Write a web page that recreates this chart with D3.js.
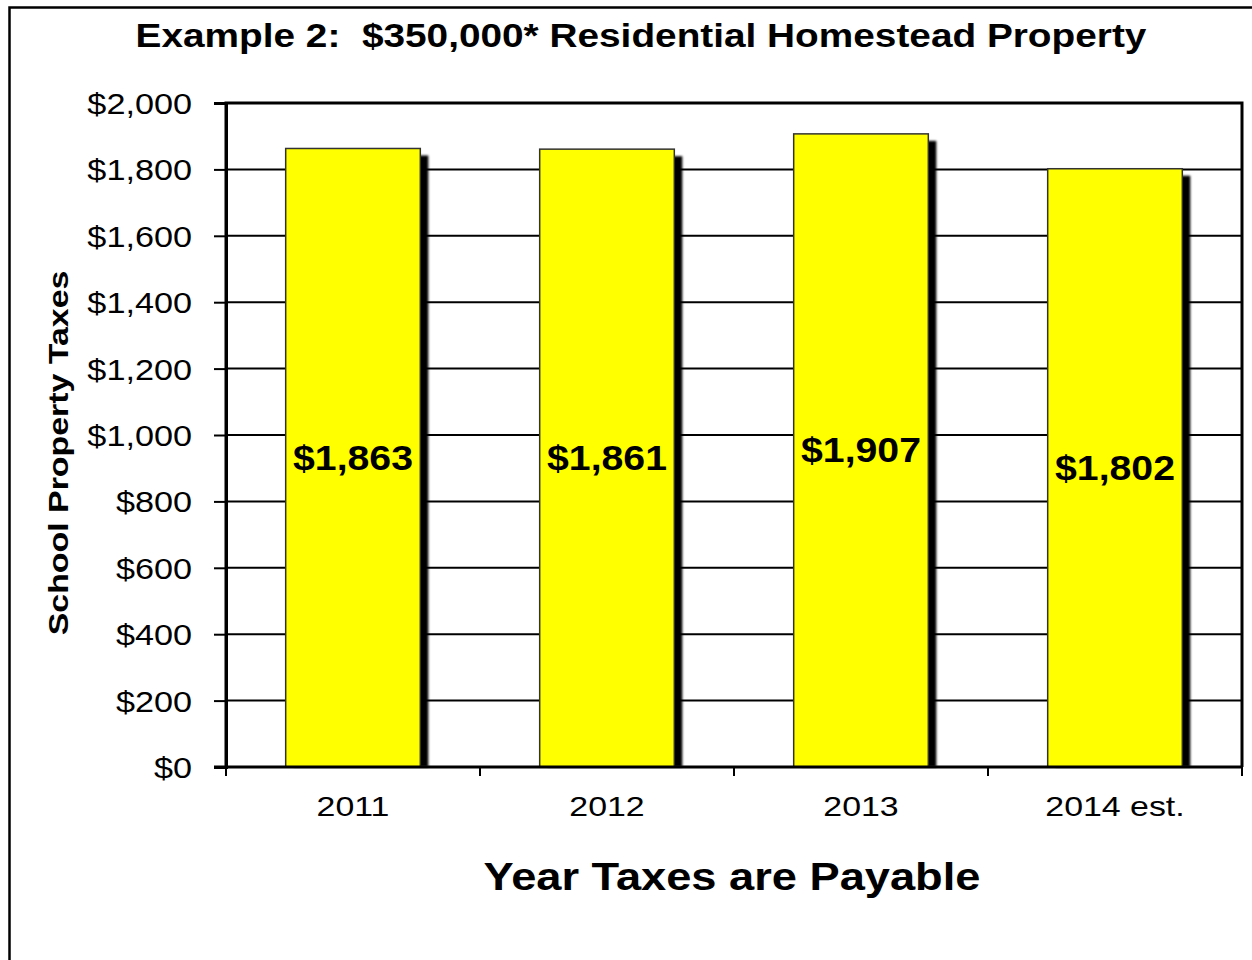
<!DOCTYPE html>
<html>
<head>
<meta charset="utf-8">
<script src="https://cdn.jsdelivr.net/npm/d3@7"></script>
<style>
  body { margin: 0; background: #fff; }
  text { font-family: "Liberation Sans", Arial, sans-serif; fill: #000; }
</style>
</head>
<body>
<svg id="chart" width="1252" height="960"></svg>
<script>
// Data.
const years  = [ '2011', '2012', '2013', '2014 est.' ];
const taxes  = [ 1863, 1861, 1907, 1802 ];
const yTicks = [ 0, 200, 400, 600, 800, 1000, 1200, 1400, 1600, 1800, 2000 ];

const margin = { top: 103, left: 226, right: 10, bottom: 193 };
const width  = 1252, height = 960;
const innerW = width  - margin.left - margin.right;
const innerH = height - margin.top  - margin.bottom;

const svg = d3.select( '#chart' );

// The original text is drawn a bit wider than the font; stretch it to match.
function widen ( sel, k ) {
  sel.each( function () {
    const len = this.getComputedTextLength();
    d3.select( this ).attr( 'textLength', len * k ).attr( 'lengthAdjust', 'spacingAndGlyphs' );
  } );
}

// Outer chart frame (only top and left show inside the picture).
svg.append( 'rect' )
  .attr( 'x', 9.5 ).attr( 'y', 7.5 )
  .attr( 'width', 1300 ).attr( 'height', 1100 )
  .attr( 'fill', 'none' ).attr( 'stroke', '#000' ).attr( 'stroke-width', 2.5 );

// Bar shadow filter.
const defs = svg.append( 'defs' );
defs.append( 'filter' ).attr( 'id', 'blur' )
  .append( 'feGaussianBlur' ).attr( 'stdDeviation', 1 );

const g = svg.append( 'g' )
  .attr( 'transform', `translate(${margin.left},${margin.top})` );

const x = d3.scaleBand().domain( years ).range( [ 0, innerW ] ).paddingInner( 0.47 ).paddingOuter( 0.235 );
const y = d3.scaleLinear().domain( [ 0, 2000 ] ).range( [ innerH, 0 ] );

// Gridlines.
g.append( 'g' ).selectAll( 'line' )
  .data( yTicks.filter( d => d > 0 ) )
  .enter().append( 'line' )
    .attr( 'x1', 0 ).attr( 'x2', innerW )
    .attr( 'y1', d => y( d ) ).attr( 'y2', d => y( d ) )
    .attr( 'stroke', '#000' ).attr( 'stroke-width', 2 );

// Shadows.
g.append( 'g' ).selectAll( 'rect' )
  .data( taxes ).enter().append( 'rect' )
    .attr( 'x', ( d, i ) => x( years[i] ) + 8 )
    .attr( 'y', d => y( d ) + 7 )
    .attr( 'width', x.bandwidth() )
    .attr( 'height', d => innerH - y( d ) - 7 )
    .attr( 'fill', '#000' )
    .attr( 'filter', 'url(#blur)' );

// Bars.
g.append( 'g' ).selectAll( 'rect' )
  .data( taxes ).enter().append( 'rect' )
    .attr( 'x', ( d, i ) => x( years[i] ) )
    .attr( 'y', d => y( d ) )
    .attr( 'width', x.bandwidth() )
    .attr( 'height', d => innerH - y( d ) )
    .attr( 'fill', '#ffff00' )
    .attr( 'stroke', '#333' ).attr( 'stroke-width', 1.5 );

// Value labels in the middle of each bar.
g.append( 'g' ).selectAll( 'text' )
  .data( taxes ).enter().append( 'text' )
    .attr( 'x', ( d, i ) => x( years[i] ) + x.bandwidth() / 2 )
    .attr( 'y', d => ( y( d ) + innerH ) / 2 + 12 )
    .attr( 'text-anchor', 'middle' )
    .style( 'font-size', '35px' ).style( 'font-weight', 'bold' )
    .text( d => '$' + d3.format( ',' )( d ) )
    .call( widen, 1.12 );

// Plot frame (top, left, right).
g.append( 'path' )
  .attr( 'd', `M0,${innerH}V0H${innerW}V${innerH}` )
  .attr( 'fill', 'none' ).attr( 'stroke', '#000' ).attr( 'stroke-width', 3 );

// Y axis.
const yAxis = g.append( 'g' )
  .call( d3.axisLeft( y ).tickValues( yTicks ).tickSize( 12 ).tickPadding( 22 )
    .tickFormat( d => '$' + d3.format( ',' )( d ) ) );
yAxis.select( '.domain' ).attr( 'stroke-width', 3 );
yAxis.selectAll( '.tick line' ).attr( 'stroke-width', 2 );
yAxis.selectAll( 'text' ).style( 'font-size', '29px' ).attr( 'dy', '0.36em' )
  .call( widen, 1.18 );

// X axis with ticks on the category boundaries.
const edges = d3.range( years.length + 1 ).map( i => i * innerW / years.length );
const xAxis = g.append( 'g' ).attr( 'transform', `translate(0,${innerH})` );
xAxis.append( 'line' )
  .attr( 'x1', -12 ).attr( 'x2', innerW )
  .attr( 'stroke', '#000' ).attr( 'stroke-width', 3 );
xAxis.selectAll( '.edge' )
  .data( edges ).enter().append( 'line' )
    .attr( 'class', 'edge' )
    .attr( 'x1', d => d ).attr( 'x2', d => d )
    .attr( 'y1', 0 ).attr( 'y2', 9 )
    .attr( 'stroke', '#000' ).attr( 'stroke-width', 2 );
xAxis.selectAll( 'text' )
  .data( years ).enter().append( 'text' )
    .attr( 'x', d => x( d ) + x.bandwidth() / 2 )
    .attr( 'y', 49 )
    .attr( 'text-anchor', 'middle' )
    .style( 'font-size', '28px' )
    .text( d => d )
    .call( widen, 1.21 );

// Titles.
svg.append( 'text' )
  .attr( 'x', 641 ).attr( 'y', 47 )
  .attr( 'text-anchor', 'middle' )
  .style( 'font-size', '33px' ).style( 'font-weight', 'bold' )
  .style( 'white-space', 'pre' )
  .text( 'Example 2:  $350,000* Residential Homestead Property' )
  .call( widen, 1.175 );

svg.append( 'text' )
  .attr( 'x', 732 ).attr( 'y', 890 )
  .attr( 'text-anchor', 'middle' )
  .style( 'font-size', '38px' ).style( 'font-weight', 'bold' )
  .text( 'Year Taxes are Payable' )
  .call( widen, 1.19 );

svg.append( 'text' )
  .attr( 'transform', 'translate(68,453) rotate(-90)' )
  .attr( 'text-anchor', 'middle' )
  .style( 'font-size', '28px' ).style( 'font-weight', 'bold' )
  .text( 'School Property Taxes' )
  .call( widen, 1.21 );
</script>
</body>
</html>
